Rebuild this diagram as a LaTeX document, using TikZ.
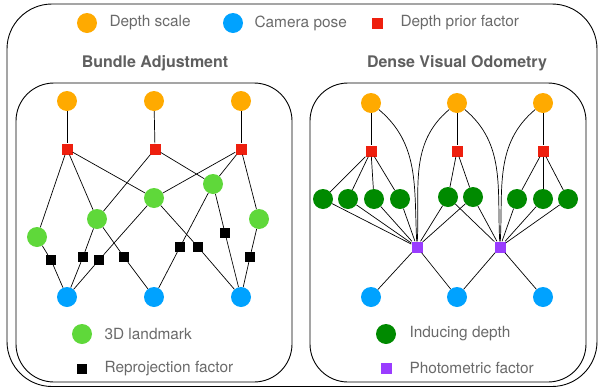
\documentclass[tikz,border=0pt]{standalone}
\usepackage{fontspec}
\setmainfont{TeX Gyre Heros}
\usepackage{tikz}

\definecolor{dscale}{HTML}{FFAA00}
\definecolor{campose}{HTML}{00A2FF}
\definecolor{priorred}{HTML}{EE1F0E}
\definecolor{lmgreen}{HTML}{5FD83A}
\definecolor{indgreen}{HTML}{008A00}
\definecolor{photopurple}{HTML}{9A3CFF}
\definecolor{txtgray}{HTML}{6A6A6A}

\tikzset{
	dnode/.style={shape=circle, fill=dscale, minimum size=20pt, inner sep=0pt},
	cnode/.style={shape=circle, fill=campose, minimum size=20pt, inner sep=0pt},
	lnode/.style={shape=circle, fill=lmgreen, minimum size=20pt, inner sep=0pt},
	inode/.style={shape=circle, fill=indgreen, minimum size=20pt, inner sep=0pt},
	prior/.style={shape=rectangle, fill=priorred, minimum size=11pt, inner sep=0pt},
	reproj/.style={shape=rectangle, fill=black, minimum size=10pt, inner sep=0pt},
	photo/.style={shape=rectangle, fill=photopurple, minimum size=11pt, inner sep=0pt},
	legtext/.style={anchor=west, text=txtgray, font=\fontsize{15.4}{17}\selectfont},
	title/.style={text=txtgray!90!black, font=\fontsize{16}{18}\selectfont\bfseries},
	link/.style={-, line width=0.7pt},
	panel/.style={draw=black, line width=0.9pt}
}

\begin{document}
\begin{tikzpicture}[x=1pt, y=-1pt]
	\useasboundingbox (0,0) rectangle (598,389);
	
	% frames
	\draw[panel, rounded corners=45pt] (7,4) rectangle (597,386.5);
	\draw[panel, rounded corners=38pt] (16,83) rectangle (292,382);
	\draw[panel, rounded corners=38pt] (310,83) rectangle (586,382);
	
	% top legend
	\node[dnode] (lgd) at (87,23) {};
	\node[legtext] (lgdt) at (106,23) {Depth scale};
	\node[cnode] (lgc) at (233,23) {};
	\node[legtext] (lgct) at (251,23) {Camera pose};
	\node[prior] (lgp) at (377,23) {};
	\node[legtext] (lgpt) at (397,23) {Depth prior factor};
	
	\node[title] (tba) at (155,63) {Bundle Adjustment};
	\node[title] (tdvo) at (457,63) {Dense Visual Odometry};
	
	% bundle adjustment
	\node[dnode] (a1) at (67,101)  {};
	\node[dnode] (a2) at (154,101) {};
	\node[dnode] (a3) at (241,101) {};
	\node[prior] (r1) at (67,149)  {};
	\node[prior] (r2) at (155,149) {};
	\node[prior] (r3) at (241,149) {};
	\node[lnode] (g1) at (37,237)  {};
	\node[lnode] (g2) at (97,219)  {};
	\node[lnode] (g3) at (154,198) {};
	\node[lnode] (g4) at (213,184) {};
	\node[lnode] (g5) at (259,219) {};
	\node[reproj] (b1) at (51,260)  {};
	\node[reproj] (b2) at (83,257)  {};
	\node[reproj] (b3) at (99,260)  {};
	\node[reproj] (b4) at (124,257) {};
	\node[reproj] (b5) at (180,247) {};
	\node[reproj] (b6) at (198,247) {};
	\node[reproj] (b7) at (225,233) {};
	\node[reproj] (b8) at (250,257) {};
	\node[cnode] (c1) at (67,297)  {};
	\node[cnode] (c2) at (154,297) {};
	\node[cnode] (c3) at (241,297) {};
	
	\path[link] (a1) edge (r1);
	\path[link] (a2) edge (r2);
	\path[link] (a3) edge (r3);
	\path[link] (r1) edge (g1);
	\path[link] (r1) edge (g2);
	\path[link] (r1) edge (g3);
	\path[link] (r2) edge (g2);
	\path[link] (r2) edge (g4);
	\path[link] (r3) edge (g3);
	\path[link] (r3) edge (g4);
	\path[link] (r3) edge (g5);
	\path[link] (g1) edge (b1);
	\path[link] (b1) edge (c1);
	\path[link] (g2) edge (b2);
	\path[link] (b2) edge (c1);
	\path[link] (g3) edge (b3);
	\path[link] (b3) edge (c1);
	\path[link] (g2) edge (b4);
	\path[link] (b4) edge (c2);
	\path[link] (g4) edge (b5);
	\path[link] (b5) edge (c2);
	\path[link] (g3) edge (b6);
	\path[link] (b6) edge (c3);
	\path[link] (g4) edge (b7);
	\path[link] (b7) edge (c3);
	\path[link] (g5) edge (b8);
	\path[link] (b8) edge (c3);
	
	\node[lnode] (lgl) at (82,334) {};
	\node[legtext] (lglt) at (101,334) {3D landmark};
	\node[reproj] (lgr) at (82,369) {};
	\node[legtext] (lgrt) at (101,369) {Reprojection factor};
	
	% dense visual odometry
	\node[dnode] (o1) at (371,103) {};
	\node[dnode] (o2) at (457,103) {};
	\node[dnode] (o3) at (543,103) {};
	\node[prior] (q1) at (371,151) {};
	\node[prior] (q2) at (457,151) {};
	\node[prior] (q3) at (543,151) {};
	\node[inode] (d1) at (323,199) {};
	\node[inode] (d2) at (348,199) {};
	\node[inode] (d3) at (374,199) {};
	\node[inode] (d4) at (400,199) {};
	\node[inode] (d5) at (448,197) {};
	\node[inode] (d6) at (473,197) {};
	\node[inode] (d7) at (517,199) {};
	\node[inode] (d8) at (543,199) {};
	\node[inode] (d9) at (568,199) {};
	\node[photo] (p1) at (417,247) {};
	\node[photo] (p2) at (500,247) {};
	\node[cnode] (e1) at (371,297) {};
	\node[cnode] (e2) at (457,297) {};
	\node[cnode] (e3) at (543,297) {};
	
	\path[link] (o1) edge (q1);
	\path[link] (o2) edge (q2);
	\path[link] (o3) edge (q3);
	\path[link] (q1) edge (d1);
	\path[link] (q1) edge (d2);
	\path[link] (q1) edge (d3);
	\path[link] (q1) edge (d4);
	\path[link] (q2) edge (d5);
	\path[link] (q2) edge (d6);
	\path[link] (q3) edge (d7);
	\path[link] (q3) edge (d8);
	\path[link] (q3) edge (d9);
	\path[link] (d1) edge (p1);
	\path[link] (d2) edge (p1);
	\path[link] (d3) edge (p1);
	\path[link] (d4) edge (p1);
	\path[link] (d5) edge (p1);
	\path[link] (d6) edge (p1);
	\path[link] (d5) edge (p2);
	\path[link] (d6) edge (p2);
	\path[link] (d7) edge (p2);
	\path[link] (d8) edge (p2);
	\path[link] (d9) edge (p2);
	\path[link] (o1) edge[out=-40, in=93] (p1);
	\path[link] (o2) edge[out=220, in=87] (p1);
	\path[link] (o2) edge[out=-40, in=93] (p2);
	\path[link] (o3) edge[out=220, in=87] (p2);
	\path[link] (p1) edge (e1);
	\path[link] (p1) edge (e2);
	\path[link] (p2) edge (e2);
	\path[link] (p2) edge (e3);
	
	\node[inode] (lgi) at (386,334) {};
	\node[legtext] (lgit) at (406,334) {Inducing depth};
	\node[photo] (lgph) at (386,368) {};
	\node[legtext] (lgpht) at (406,368) {Photometric factor};
	
\end{tikzpicture}
\end{document}
